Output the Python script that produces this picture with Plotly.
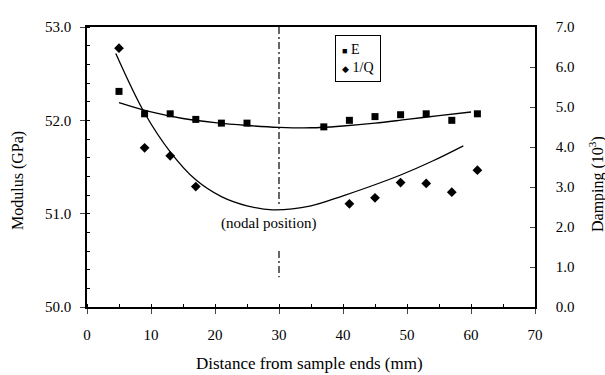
import plotly.graph_objects as go

# ---- data ----
x_E = [5, 9, 13, 17, 21, 25, 37, 41, 45, 49, 53, 57, 61]
E_vals = [52.31, 52.07, 52.07, 52.01, 51.97, 51.97, 51.93, 52.00, 52.04, 52.06, 52.07, 52.00, 52.07]

x_Q = [5, 9, 13, 17, 41, 45, 49, 53, 57, 61]
Q_vals = [6.47, 3.98, 3.78, 3.01, 2.58, 2.73, 3.11, 3.09, 2.87, 3.42]

x_Efit = [5, 10, 15, 20, 25, 30, 35, 40, 45, 50, 55, 60]
E_fit = [52.19, 52.09, 52.02, 51.975, 51.945, 51.925, 51.92, 51.94, 51.97, 52.01, 52.05, 52.09]

x_Qfit = [4.5, 9, 13, 17, 21, 25, 29, 35, 40, 44, 49, 54, 58.8]
Q_fit = [6.34, 4.85, 3.88, 3.18, 2.76, 2.53, 2.43, 2.53, 2.78, 3.0, 3.3, 3.65, 4.03]

nodal_x = 30
nodal_y_upper = [53.0, 51.1]
nodal_y_lower = [50.6, 50.32]

FONT = "Liberation Serif, Times New Roman, serif"

fig = go.Figure()

fig.add_trace(go.Scatter(x=x_Efit, y=E_fit, mode="lines", line=dict(color="black", width=1.4, shape="spline"),
                         showlegend=False, hoverinfo="skip"))
fig.add_trace(go.Scatter(x=x_E, y=E_vals, mode="markers", name="E",
                         marker=dict(symbol="square", size=7, color="black"), showlegend=False))
fig.add_trace(go.Scatter(x=x_Qfit, y=Q_fit, mode="lines", line=dict(color="black", width=1.3, shape="spline"),
                         yaxis="y2", showlegend=False, hoverinfo="skip"))
fig.add_trace(go.Scatter(x=x_Q, y=Q_vals, mode="markers", name="1/Q", yaxis="y2",
                         marker=dict(symbol="diamond", size=7.5, color="black"), showlegend=False))
fig.add_trace(go.Scatter(x=[nodal_x, nodal_x, None, nodal_x, nodal_x],
                         y=nodal_y_upper + [None] + nodal_y_lower, mode="lines",
                         line=dict(color="black", width=1.2, dash="7px,3px,2px,3px"),
                         showlegend=False, hoverinfo="skip"))

fig.add_annotation(x=28.4, y=50.89, xref="x", yref="y", text="(nodal position)", showarrow=False,
                   xanchor="center", yanchor="middle",
                   font=dict(family=FONT, size=15, color="black"))

# legend box
fig.add_annotation(x=42.3, y=52.664, xref="x", yref="y", showarrow=False, align="left",
                   xanchor="center", yanchor="middle",
                   text="<span style='font-size:9px'>■</span> E<br><span style='font-size:9px'>◆</span> 1/Q",
                   font=dict(family=FONT, size=14, color="black"),
                   bordercolor="black", borderwidth=1, borderpad=6, bgcolor="white")

# axis titles
fig.add_annotation(x=0, y=0.5, xref="paper", yref="paper", xshift=-69, yshift=-14,
                   xanchor="center", yanchor="middle",
                   text="Modulus (GPa)", textangle=-90, showarrow=False,
                   font=dict(family=FONT, size=16, color="black"))
fig.add_annotation(x=1, y=0.5, xref="paper", yref="paper", xshift=61, yshift=-17,
                   xanchor="center", yanchor="middle",
                   text="Damping (10<sup>3</sup>)", textangle=-90, showarrow=False,
                   font=dict(family=FONT, size=16, color="black"))
fig.add_annotation(x=0.5, y=0, xref="paper", yref="paper", yshift=-56, xshift=-2,
                   xanchor="center", yanchor="middle",
                   text="Distance from sample ends (mm)", showarrow=False,
                   font=dict(family=FONT, size=17, color="black"))

fig.update_layout(
    width=605, height=375,
    margin=dict(l=87, r=70, t=27, b=68),
    paper_bgcolor="white", plot_bgcolor="white",
    font=dict(family=FONT, size=15, color="black"),
    xaxis=dict(range=[0, 70], tick0=0, dtick=10, ticks="outside", ticklen=5, tickwidth=1,
               showline=True, linecolor="black", linewidth=1.5, mirror=True,
               showgrid=False, zeroline=False, ticklabelstandoff=8,
               minor=dict(dtick=5, ticks="inside", ticklen=3, tickcolor="black", showgrid=False),
               tickfont=dict(family=FONT, size=15)),
    yaxis=dict(range=[50, 53], tick0=50, dtick=1, tickformat=".1f", ticks="outside", ticklen=5,
               showline=True, linecolor="black", linewidth=1.5, showgrid=False, zeroline=False,
               ticklabelstandoff=6,
               minor=dict(dtick=0.2, ticks="inside", ticklen=3, tickcolor="black", showgrid=False),
               tickfont=dict(family=FONT, size=15)),
    yaxis2=dict(range=[0, 7], tick0=0, dtick=1, tickformat=".1f", overlaying="y", side="right",
                ticks="inside", ticklen=5, showline=True, linecolor="black", linewidth=1.5,
                showgrid=False, zeroline=False, ticklabelstandoff=16,
                tickfont=dict(family=FONT, size=15)),
)

fig.write_html("out.html", config={"displayModeBar": False},
               post_script="document.body.style.margin='0';document.body.style.overflow='hidden';")
